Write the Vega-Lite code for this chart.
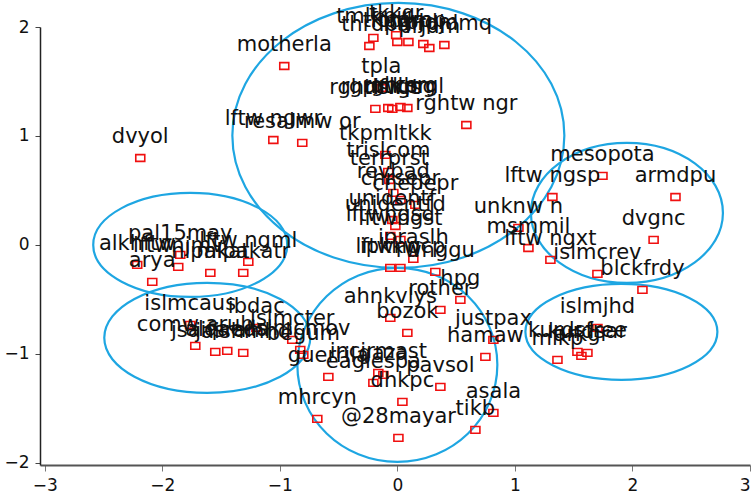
{
  "$schema": "https://vega.github.io/schema/vega-lite/v6.json",
  "width": 710,
  "height": 438,
  "padding": {"left": 40, "top": 27, "right": 3, "bottom": 34},
  "autosize": {"type": "none"},
  "background": "white",
  "config": {
    "view": {"stroke": null},
    "axis": {"grid": false, "title": null, "labelFont": "DejaVu Sans", "labelFontSize": 17, "labelColor": "#111", "domainColor": "#222", "tickColor": "#444", "tickSize": 5, "labelPadding": 5, "format": "d"}
  },
  "datasets": {
    "groups": [
      {"g": "E1", "cx": 0.0085, "cy": 1.005},
      {"g": "E2", "cx": -1.762, "cy": 0.0},
      {"g": "E3", "cx": -1.617, "cy": -0.853},
      {"g": "E4", "cx": 0.0, "cy": -1.101},
      {"g": "E5", "cx": 1.953, "cy": 0.294},
      {"g": "E6", "cx": 1.906, "cy": -0.798}
    ],
    "points": [
      {"x": -0.01, "y": 1.925, "label": "tkkgr"},
      {"x": -0.238, "y": 1.826, "label": "thrdp"},
      {"x": -0.204, "y": 1.9, "label": "tmlkpjr"},
      {"x": 0.094, "y": 1.862, "label": "fordmp"},
      {"x": 0.221, "y": 1.844, "label": "trpjdm"},
      {"x": 0.272, "y": 1.807, "label": "prjdm"},
      {"x": 0.4, "y": 1.835, "label": "mrpjdmq"},
      {"x": 0.0, "y": 1.862, "label": "tkpgrp"},
      {"x": -0.962, "y": 1.642, "label": "motherla"},
      {"x": -0.136, "y": 1.44, "label": "tpla"},
      {"x": -0.187, "y": 1.248, "label": "rghtlsrgs"},
      {"x": -0.077, "y": 1.257, "label": "rgpnlrlng"},
      {"x": -0.043, "y": 1.248, "label": "rlfwrt"},
      {"x": 0.085, "y": 1.257, "label": "ntkpml"},
      {"x": 0.026, "y": 1.266, "label": "rghtsrg"},
      {"x": 0.587, "y": 1.101, "label": "rghtw ngr"},
      {"x": -1.055, "y": 0.963, "label": "lftw ngwr"},
      {"x": -0.809, "y": 0.936, "label": "resalmw or"},
      {"x": -0.102, "y": 0.826, "label": "tkpmltkk"},
      {"x": -0.077, "y": 0.67, "label": "trislcom"},
      {"x": -0.068, "y": 0.596, "label": "terrprst"},
      {"x": -0.034, "y": 0.477, "label": "revbad"},
      {"x": 0.026, "y": 0.413, "label": "chrsepr"},
      {"x": 0.153, "y": 0.367, "label": "cnepepr"},
      {"x": -0.043, "y": 0.229, "label": "unidentf"},
      {"x": -0.017, "y": 0.174, "label": "unidentfd"},
      {"x": -0.06, "y": 0.083, "label": "lftwngsd"},
      {"x": 0.026, "y": 0.046, "label": "lftwngst"},
      {"x": 0.136, "y": -0.128, "label": "ipraslh"},
      {"x": -0.06, "y": -0.211, "label": "ipkkw"},
      {"x": 0.026, "y": -0.211, "label": "lftwngcp"},
      {"x": 0.323, "y": -0.248, "label": "rwnggu"},
      {"x": -2.187, "y": 0.798, "label": "dvyol"},
      {"x": 1.745, "y": 0.633, "label": "mesopota"},
      {"x": 1.319, "y": 0.44, "label": "lftw ngsp"},
      {"x": 2.366, "y": 0.44, "label": "armdpu"},
      {"x": 1.03, "y": 0.156, "label": "unknw n"},
      {"x": 2.18, "y": 0.046, "label": "dvgnc"},
      {"x": 1.115, "y": -0.028, "label": "msmmil"},
      {"x": 1.302, "y": -0.138, "label": "lftw ngxt"},
      {"x": 1.702, "y": -0.266, "label": "islmcrev"},
      {"x": 2.085, "y": -0.413, "label": "blckfrdy"},
      {"x": -1.847, "y": -0.092, "label": "pal15may"},
      {"x": -2.213, "y": -0.183, "label": "alkhftw"},
      {"x": -1.268, "y": -0.156, "label": "lftw ngml"},
      {"x": -1.311, "y": -0.257, "label": "mlpakatr"},
      {"x": -1.591, "y": -0.257, "label": "nlpakat"},
      {"x": -1.864, "y": -0.202, "label": "lftwnjmv"},
      {"x": -2.085, "y": -0.339, "label": "arya"},
      {"x": -1.762, "y": -0.734, "label": "islmcaus"},
      {"x": -1.2, "y": -0.761, "label": "ibdac"},
      {"x": -1.719, "y": -0.927, "label": "comw arub"},
      {"x": -1.549, "y": -0.982, "label": "jsaifsrah"},
      {"x": -1.447, "y": -0.972, "label": "alqaeda"},
      {"x": -1.311, "y": -0.991, "label": "jaishmhd"},
      {"x": -0.894, "y": -0.872, "label": "islmcter"},
      {"x": -0.826, "y": -0.963, "label": "islmcmov"},
      {"x": -0.8, "y": -1.009, "label": "begum"},
      {"x": -0.162, "y": -1.174, "label": "incirmast"},
      {"x": -0.587, "y": -1.211, "label": "guerrila"},
      {"x": -0.204, "y": -1.266, "label": "eaglespa"},
      {"x": -0.119, "y": -1.193, "label": "gaza"},
      {"x": 0.043, "y": -1.44, "label": "dhkpc"},
      {"x": 0.366, "y": -1.303, "label": "pavsol"},
      {"x": -0.681, "y": -1.596, "label": "mhrcyn"},
      {"x": 0.009, "y": -1.771, "label": "@28mayar"},
      {"x": 0.664, "y": -1.697, "label": "tikb"},
      {"x": 0.817, "y": -1.541, "label": "asala"},
      {"x": 0.749, "y": -1.028, "label": "hamaw"},
      {"x": 0.817, "y": -0.872, "label": "justpax"},
      {"x": 0.085, "y": -0.807, "label": "bozok"},
      {"x": 0.536, "y": -0.505, "label": "hpg"},
      {"x": 0.366, "y": -0.596, "label": "rother"},
      {"x": -0.06, "y": -0.67, "label": "ahnkvlys"},
      {"x": 1.702, "y": -0.761, "label": "islmjhd"},
      {"x": 1.532, "y": -0.982, "label": "kurdsfree"},
      {"x": 1.362, "y": -1.055, "label": "mlkp"},
      {"x": 1.566, "y": -1.018, "label": "arkgr"},
      {"x": 1.617, "y": -0.991, "label": "kurdsar"}
    ]
  },
  "layer": [
    {
      "data": {"name": "points"},
      "mark": {"type": "point", "opacity": 0},
      "encoding": {
        "x": {"field": "x", "type": "quantitative", "scale": {"domain": [-3.04, 3.0], "nice": false, "zero": false}, "axis": {"values": [-3, -2, -1, 0, 1, 2, 3], "domainWidth": 2, "domainColor": "#555", "tickColor": "#777", "tickSize": 6, "labelPadding": 6}},
        "y": {"field": "y", "type": "quantitative", "scale": {"domain": [-2.02, 2.0], "nice": false, "zero": false}, "axis": {"values": [-2, -1, 0, 1, 2], "domainWidth": 1.5, "labelPadding": 6}}
      }
    },
    {
      "mark": {"type": "rule", "color": "#111", "strokeWidth": 1.5},
      "encoding": {"y": {"datum": 2}}
    },
    {
      "mark": {"type": "rule", "color": "#111", "strokeWidth": 2},
      "encoding": {"y": {"datum": 0}}
    },
    {
      "mark": {"type": "rule", "color": "#111", "strokeWidth": 2},
      "encoding": {"x": {"datum": 0}}
    },
    {
      "data": {"name": "groups"},
      "transform": [{"filter": "datum.g == 'E1'"}],
      "mark": {"type": "point", "shape": "M -1 0 C -1 -0.4407 -0.5523 -0.798 0 -0.798 C 0.5523 -0.798 1 -0.4407 1 0 C 1 0.4407 0.5523 0.798 0 0.798 C -0.5523 0.798 -1 0.4407 -1 0 Z", "size": 110224, "filled": false, "stroke": "#1ea6e2", "strokeWidth": 2.2, "opacity": 1},
      "encoding": {"x": {"field": "cx", "type": "quantitative"}, "y": {"field": "cy", "type": "quantitative"}}
    },
    {
      "data": {"name": "groups"},
      "transform": [{"filter": "datum.g == 'E2'"}],
      "mark": {"type": "point", "shape": "M -1 0 C -1 -0.296 -0.5523 -0.536 0 -0.536 C 0.5523 -0.536 1 -0.296 1 0 C 1 0.296 0.5523 0.536 0 0.536 C -0.5523 0.536 -1 0.296 -1 0 Z", "size": 37636, "filled": false, "stroke": "#1ea6e2", "strokeWidth": 2.2, "opacity": 1},
      "encoding": {"x": {"field": "cx", "type": "quantitative"}, "y": {"field": "cy", "type": "quantitative"}}
    },
    {
      "data": {"name": "groups"},
      "transform": [{"filter": "datum.g == 'E3'"}],
      "mark": {"type": "point", "shape": "M -1 0 C -1 -0.2949 -0.5523 -0.534 0 -0.534 C 0.5523 -0.534 1 -0.2949 1 0 C 1 0.2949 0.5523 0.534 0 0.534 C -0.5523 0.534 -1 0.2949 -1 0 Z", "size": 42436, "filled": false, "stroke": "#1ea6e2", "strokeWidth": 2.2, "opacity": 1},
      "encoding": {"x": {"field": "cx", "type": "quantitative"}, "y": {"field": "cy", "type": "quantitative"}}
    },
    {
      "data": {"name": "groups"},
      "transform": [{"filter": "datum.g == 'E4'"}],
      "mark": {"type": "point", "shape": "M -1 0 C -1 -0.5357 -0.5523 -0.97 0 -0.97 C 0.5523 -0.97 1 -0.5357 1 0 C 1 0.5357 0.5523 0.97 0 0.97 C -0.5523 0.97 -1 0.5357 -1 0 Z", "size": 40000, "filled": false, "stroke": "#1ea6e2", "strokeWidth": 2.2, "opacity": 1},
      "encoding": {"x": {"field": "cx", "type": "quantitative"}, "y": {"field": "cy", "type": "quantitative"}}
    },
    {
      "data": {"name": "groups"},
      "transform": [{"filter": "datum.g == 'E5'"}],
      "mark": {"type": "point", "shape": "M -1 0 C -1 -0.4026 -0.5523 -0.729 0 -0.729 C 0.5523 -0.729 1 -0.4026 1 0 C 1 0.4026 0.5523 0.729 0 0.729 C -0.5523 0.729 -1 0.4026 -1 0 Z", "size": 36864, "filled": false, "stroke": "#1ea6e2", "strokeWidth": 2.2, "opacity": 1},
      "encoding": {"x": {"field": "cx", "type": "quantitative"}, "y": {"field": "cy", "type": "quantitative"}}
    },
    {
      "data": {"name": "groups"},
      "transform": [{"filter": "datum.g == 'E6'"}],
      "mark": {"type": "point", "shape": "M -1 0 C -1 -0.2762 -0.5523 -0.5 0 -0.5 C 0.5523 -0.5 1 -0.2762 1 0 C 1 0.2762 0.5523 0.5 0 0.5 C -0.5523 0.5 -1 0.2762 -1 0 Z", "size": 36864, "filled": false, "stroke": "#1ea6e2", "strokeWidth": 2.2, "opacity": 1},
      "encoding": {"x": {"field": "cx", "type": "quantitative"}, "y": {"field": "cy", "type": "quantitative"}}
    },
    {
      "data": {"name": "points"},
      "mark": {"type": "point", "shape": "M -1 -0.75 L 1 -0.75 L 1 0.75 L -1 0.75 Z", "size": 81, "filled": false, "stroke": "#f01010", "strokeWidth": 1.6, "opacity": 1},
      "encoding": {"x": {"field": "x", "type": "quantitative"}, "y": {"field": "y", "type": "quantitative"}}
    },
    {
      "data": {"name": "points"},
      "mark": {"type": "text", "font": "DejaVu Sans", "fontSize": 21, "color": "#111", "baseline": "alphabetic", "align": "center", "dy": -15},
      "encoding": {"x": {"field": "x", "type": "quantitative"}, "y": {"field": "y", "type": "quantitative"}, "text": {"field": "label"}}
    }
  ]
}
